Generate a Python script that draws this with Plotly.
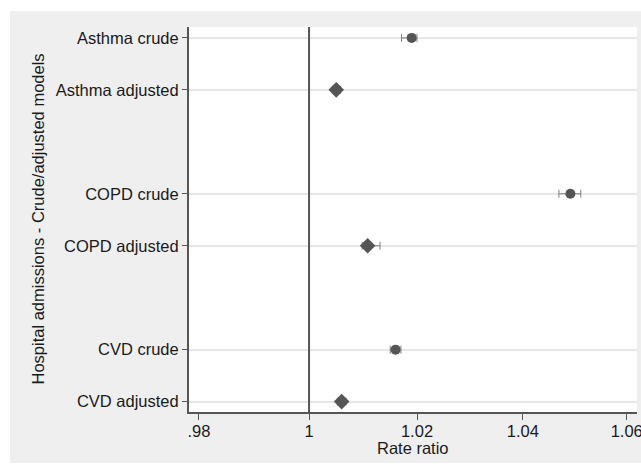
import math
import plotly.graph_objects as go

groups = ["Asthma", "COPD", "CVD"]
models = ["crude", "adjusted"]
estimates = {
    "Asthma": [1.0190, 1.0050],
    "COPD": [1.0491, 1.0108],
    "CVD": [1.0160, 1.0060],
}
lower = {
    "Asthma": [1.0171, 1.0043],
    "COPD": [1.0469, 1.0098],
    "CVD": [1.0150, 1.0052],
}
upper = {
    "Asthma": [1.0200, 1.0058],
    "COPD": [1.0511, 1.0131],
    "CVD": [1.0170, 1.0068],
}
x_ticks = [0.98, 1.0, 1.02, 1.04, 1.06]
x_tick_labels = [".98", "1", "1.02", "1.04", "1.06"]

W, H = 641, 466
L, R, T, B = 189, 4, 27, 54
pw, ph = W - L - R, H - T - B

ink = "#555555"
fnt = dict(family="Liberation Sans, Arial, sans-serif", size=16.5, color="#1a1a1a")

fig = go.Figure()
labels, ypos = [], []
for gi, g in enumerate(groups):
    for mi, m in enumerate(models):
        y = gi * 3 + mi + 1
        labels.append(f"{g} {m}")
        ypos.append(y)
        est = estimates[g][mi]
        lo = lower[g][mi]
        hi = upper[g][mi]
        fig.add_trace(go.Scatter(
            x=[est], y=[y], mode="markers",
            marker=dict(symbol="circle" if m == "crude" else "diamond",
                        size=10 if m == "crude" else 12, color=ink,
                        line=dict(width=0)),
            error_x=dict(type="data", symmetric=False,
                         array=[hi - est], arrayminus=[est - lo],
                         color="#808080", thickness=1, width=4),
            showlegend=False, hoverinfo="skip",
        ))

# white strips around the grey panel
fig.add_shape(type="rect", xref="paper", yref="paper",
              x0=(0 - L) / pw, x1=(W - L) / pw,
              y0=(T + ph - 11) / ph, y1=(T + ph) / ph,
              fillcolor="white", line=dict(width=0), layer="above")
fig.add_shape(type="rect", xref="paper", yref="paper",
              x0=(0 - L) / pw, x1=(10 - L) / pw,
              y0=(T + ph - H) / ph, y1=(T + ph) / ph,
              fillcolor="white", line=dict(width=0), layer="above")
fig.add_shape(type="rect", xref="paper", yref="paper",
              x0=(0 - L) / pw, x1=(W - L) / pw,
              y0=(T + ph - H) / ph, y1=(T + ph - 463) / ph,
              fillcolor="white", line=dict(width=0), layer="above")
# reference line at 1
fig.add_shape(type="line", xref="x", yref="paper", x0=1, x1=1, y0=0, y1=1,
              line=dict(color=ink, width=2))

fig.add_annotation(text="Hospital admissions - Crude/adjusted models",
                   xref="paper", yref="paper", x=(37 - L) / pw, y=0.5,
                   textangle=-90, showarrow=False, font=fnt,
                   xanchor="center", yanchor="middle")
fig.add_annotation(text="Rate ratio",
                   xref="paper", yref="paper", x=0.5, y=(T + ph - 448) / ph,
                   showarrow=False, font=fnt,
                   xanchor="center", yanchor="middle")

fig.update_layout(
    width=W, height=H,
    margin=dict(l=L, r=R, t=T, b=B, pad=0, autoexpand=False),
    paper_bgcolor="#efefef", plot_bgcolor="white",
    font=fnt,
    xaxis=dict(type="log",
               range=[math.log10(0.97822), math.log10(1.0620)],
               tickvals=x_ticks, ticktext=x_tick_labels,
               ticks="outside", ticklen=6, tickwidth=1, tickcolor=ink,
               showline=True, linecolor=ink, linewidth=2,
               showgrid=False, zeroline=False, automargin=False,
               ticklabeloverflow="allow", ticklabelstandoff=-3,
               tickfont=fnt),
    yaxis=dict(range=[8.2, 0.79], tickvals=ypos, ticktext=labels,
               ticks="outside", ticklen=5, tickwidth=1, tickcolor=ink,
               showline=True, linecolor=ink, linewidth=2,
               showgrid=True, gridcolor="#e6e6e6", gridwidth=1.5,
               zeroline=False, automargin=False, tickfont=fnt),
)

fig.write_html("out.html")
